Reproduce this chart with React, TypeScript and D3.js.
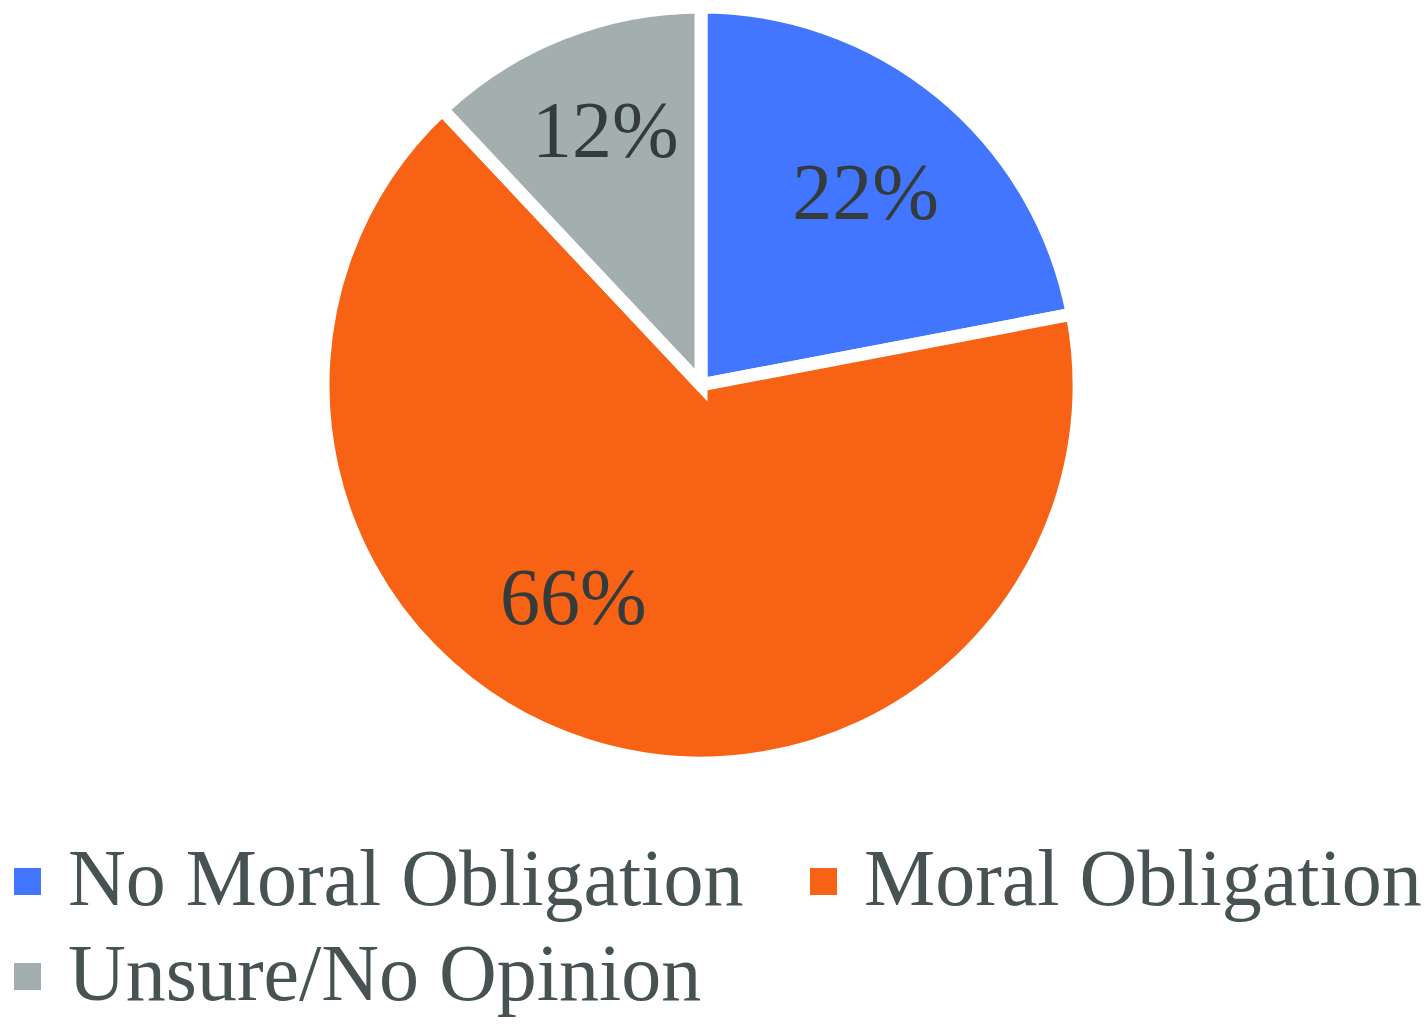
import React from 'react';
import * as d3 from 'd3';

const categories = ['No Moral Obligation', 'Moral Obligation', 'Unsure/No Opinion'];
const shares = [22, 66, 12];
const colors = ['#4276FE', '#F76214', '#A3AFAE'];

// small nudges (degrees, radius) so the labels sit where the original put them
const labelShift = [
  { da: 1, r: 253 },
  { da: 13, r: 248 },
  { da: 1, r: 272 },
];

const W = 1424;
const H = 1024;
const cx = 701;
const cy = 385;
const radius = 378;

const App = () => {
  const data = categories.map((name, i) => ({ name, value: shares[i], color: colors[i] }));
  const pie = d3.pie<any>().sort(null).value(d => d.value);
  const arcs = pie(data);
  const arc = d3.arc<any>().innerRadius(0).outerRadius(radius);

  const labelPos = (a: any, i: number) => {
    const mid = (a.startAngle + a.endAngle) / 2 + (labelShift[i].da * Math.PI) / 180;
    const r = labelShift[i].r;
    return [Math.sin(mid) * r, -Math.cos(mid) * r];
  };

  // legend layout: two items in the first row, one in the second
  const legendRows = [
    { y: 905, items: [{ i: 0, x: 14 }, { i: 1, x: 810 }] },
    { y: 1000, items: [{ i: 2, x: 14 }] },
  ];

  return (
    <svg width={W} height={H} style={{ display: 'block', position: 'absolute', left: 0, top: 0 }}
      fontFamily="'Liberation Serif', 'DejaVu Serif', serif">
      <rect width={W} height={H} fill="#fff" />
      <g transform={`translate(${cx},${cy})`}>
        {arcs.map((a, i) => (
          <path key={i} d={arc(a) as string} fill={a.data.color} stroke="#fff" strokeWidth={13} />
        ))}
        {arcs.map((a, i) => {
          const [x, y] = labelPos(a, i);
          return (
            <text key={'l' + i} x={x} y={y} dy="0.33em" textAnchor="middle" fontSize={80} fill="#353B3B">
              {a.data.value}%
            </text>
          );
        })}
      </g>
      {legendRows.map((row, ri) =>
        row.items.map(it => (
          <g key={ri + '-' + it.i}>
            <rect x={it.x} y={row.y - 37} width={27} height={27} fill={colors[it.i]} />
            <text x={it.x + 54} y={row.y} fontSize={80} fill="#475253">{categories[it.i]}</text>
          </g>
        ))
      )}
    </svg>
  );
};

export default App;
